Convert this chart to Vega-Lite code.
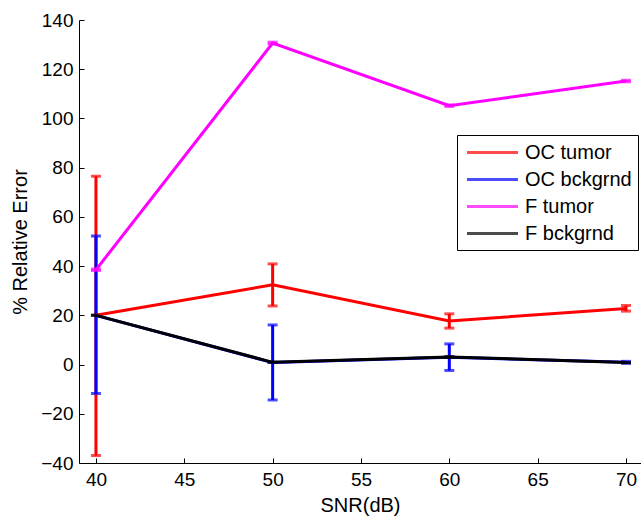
{
  "$schema": "https://vega.github.io/schema/vega-lite/v6.json",
  "width": 562,
  "height": 443,
  "autosize": {"type": "none"},
  "padding": {"left": 79, "top": 20, "right": 0, "bottom": 54},
  "background": "white",
  "config": {
    "view": {"stroke": null},
    "font": "Liberation Sans",
    "axis": {
      "grid": false,
      "domainColor": "black",
      "domainWidth": 1,
      "tickColor": "black",
      "tickWidth": 1,
      "tickSize": -5,
      "labelColor": "black",
      "titleColor": "black",
      "labelFont": "Liberation Sans",
      "titleFont": "Liberation Sans",
      "labelFontSize": 19,
      "titleFontSize": 20,
      "titleFontWeight": "normal"
    }
  },
  "data": {
    "values": [
      {"series": "OC tumor", "snr": 40, "v": 20.0, "lo": -37.0, "hi": 76.5},
      {"series": "OC tumor", "snr": 50, "v": 32.4, "lo": 23.8, "hi": 40.9},
      {"series": "OC tumor", "snr": 60, "v": 17.7, "lo": 14.8, "hi": 20.6},
      {"series": "OC tumor", "snr": 70, "v": 22.8, "lo": 21.7, "hi": 24.0},
      {"series": "OC bckgrnd", "snr": 40, "v": 20.0, "lo": -11.8, "hi": 52.2},
      {"series": "OC bckgrnd", "snr": 50, "v": 0.8, "lo": -14.4, "hi": 16.1},
      {"series": "OC bckgrnd", "snr": 60, "v": 3.0, "lo": -2.4, "hi": 8.4},
      {"series": "OC bckgrnd", "snr": 70, "v": 0.9, "lo": 0.5, "hi": 1.3},
      {"series": "F tumor", "snr": 40, "v": 38.5, "lo": 38.2, "hi": 38.8},
      {"series": "F tumor", "snr": 50, "v": 130.6, "lo": 130.2, "hi": 131.0},
      {"series": "F tumor", "snr": 60, "v": 105.2, "lo": 104.9, "hi": 105.5},
      {"series": "F tumor", "snr": 70, "v": 115.2, "lo": 114.9, "hi": 115.5},
      {"series": "F bckgrnd", "snr": 40, "v": 20.0, "lo": 20.0, "hi": 20.0},
      {"series": "F bckgrnd", "snr": 50, "v": 0.9, "lo": 0.9, "hi": 0.9},
      {"series": "F bckgrnd", "snr": 60, "v": 3.1, "lo": 3.1, "hi": 3.1},
      {"series": "F bckgrnd", "snr": 70, "v": 0.8, "lo": 0.8, "hi": 0.8}
    ]
  },
  "encoding": {
    "x": {
      "field": "snr",
      "type": "quantitative",
      "scale": {"domain": [39.04, 70.85], "nice": false, "zero": false},
      "axis": {"values": [40, 45, 50, 55, 60, 65, 70], "title": "SNR(dB)", "labelPadding": 12, "titlePadding": 6}
    },
    "color": {
      "field": "series",
      "type": "nominal",
      "scale": {
        "domain": ["OC tumor", "OC bckgrnd", "F tumor", "F bckgrnd"],
        "range": ["#ff0000", "#0000ff", "#ff00ff", "#000000"]
      },
      "legend": {
        "title": null,
        "orient": "none",
        "legendX": 378,
        "legendY": 115,
        "symbolType": "M-2.55,0H2.55",
        "symbolSize": 400,
        "symbolStrokeWidth": 3,
        "symbolOffset": 18,
        "labelFont": "Liberation Sans",
        "labelFontSize": 20,
        "labelColor": "black",
        "labelOffset": 21,
        "rowPadding": 5,
        "strokeColor": "black",
        "fillColor": "white",
        "padding": 6
      }
    }
  },
  "layer": [
    {
      "mark": {"type": "rule", "strokeWidth": 3},
      "encoding": {
        "y": {
          "field": "lo",
          "type": "quantitative",
          "scale": {"domain": [-40, 140], "nice": false, "zero": false},
          "axis": {"values": [-40, -20, 0, 20, 40, 60, 80, 100, 120, 140], "title": "% Relative Error", "labelPadding": 11, "titlePadding": 10}
        },
        "y2": {"field": "hi"}
      }
    },
    {
      "mark": {"type": "tick", "orient": "horizontal", "size": 10, "thickness": 3},
      "encoding": {"y": {"field": "lo", "type": "quantitative", "title": "% Relative Error"}}
    },
    {
      "mark": {"type": "tick", "orient": "horizontal", "size": 10, "thickness": 3},
      "encoding": {"y": {"field": "hi", "type": "quantitative", "title": "% Relative Error"}}
    },
    {
      "mark": {"type": "line", "strokeWidth": 3},
      "encoding": {"y": {"field": "v", "type": "quantitative", "title": "% Relative Error"}}
    }
  ]
}
